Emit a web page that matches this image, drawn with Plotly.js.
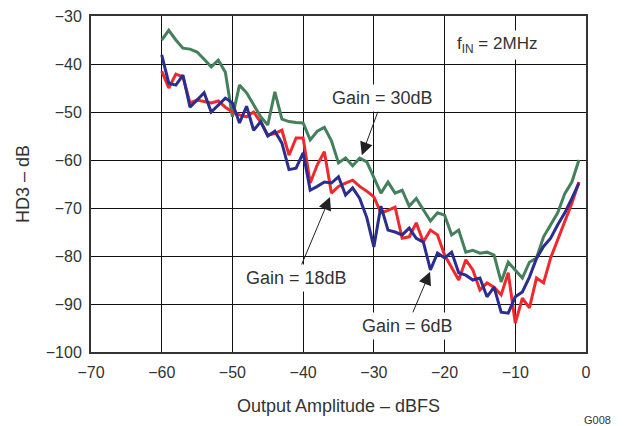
<!DOCTYPE html>
<html>
<head>
<meta charset="utf-8">
<script src="https://cdn.plot.ly/plotly-3.0.1.min.js"></script>
<style>html,body{margin:0;padding:0;background:#fff;}#chart{width:626px;height:426px;}</style>
</head>
<body>
<div id="chart"></div>
<script>
const xValues = [-60,-59,-58,-57,-56,-55,-54,-53,-52,-51,-50,-49,-48,-47,-46,-45,-44,-43,-42,-41,-40,-39,-38,-37,-36,-35,-34,-33,-32,-31,-30,-29,-28,-27,-26,-25,-24,-23,-22,-21,-20,-19,-18,-17,-16,-15,-14,-13,-12,-11,-10,-9,-8,-7,-6,-5,-4,-3,-2,-1];
const gain30 = [-35,-33,-35,-36.7,-36.9,-37.5,-39,-40.6,-39.2,-41.7,-51,-44.4,-46,-48.5,-51,-52.7,-45.8,-51.5,-52,-52.2,-52.3,-55.8,-54,-53.2,-56,-60.6,-59.6,-61.2,-59.6,-60.4,-63.5,-66.9,-64.6,-66.9,-66.3,-69.6,-68,-70.5,-72.7,-71,-71.5,-75.6,-74.6,-79.2,-78.8,-79.4,-79.2,-79.8,-85.4,-81.3,-82.9,-84.6,-81.3,-80.4,-76,-73.5,-71,-67,-64.6,-60];
const gain18 = [-41.5,-45,-42.1,-42.7,-48.1,-47.5,-47.8,-48.1,-47.7,-49,-50,-50.6,-51,-50,-52.1,-54.8,-54.5,-53.8,-59,-55.4,-55.4,-64.8,-61,-58.3,-66.9,-65.5,-64.8,-64.2,-65.5,-66.5,-67.7,-71,-70.5,-69.8,-76.3,-76,-73.1,-77.1,-74.6,-75.6,-79.8,-82.3,-85,-80.8,-82.9,-87.1,-85.6,-86.5,-88.1,-83.5,-94,-88.8,-90.8,-84.6,-85.6,-80.4,-76.5,-73,-69,-64.6];
const gain6 = [-38.1,-44,-44.4,-42.3,-49,-47.5,-46,-50,-48.5,-47.1,-48.1,-52.3,-48.8,-53.8,-52,-55,-54,-56.5,-62,-61.7,-58.5,-66.3,-65.5,-64.6,-64.8,-63.5,-67.3,-65.8,-68,-72,-78.1,-69.6,-74.6,-75,-75.6,-74.2,-76.3,-77.1,-82.9,-79.4,-80.4,-79.2,-83.5,-84,-85,-84.6,-88.5,-86.5,-91.7,-91.9,-88.5,-87.5,-84.4,-80.5,-78,-76.3,-73.5,-71,-68,-64.8];
const xTicks = [-70,-60,-50,-40,-30,-20,-10,0];
const yTicks = [-100,-90,-80,-70,-60,-50,-40,-30];
const seriesNames = ["Gain = 30dB","Gain = 18dB","Gain = 6dB"];

const font = "Liberation Sans, Arial, sans-serif";
const traces = [
  {x:xValues, y:gain30, name:seriesNames[0], mode:'lines', line:{color:'#44805c', width:3}},
  {x:xValues, y:gain18, name:seriesNames[1], mode:'lines', line:{color:'#ee2a2e', width:3}},
  {x:xValues, y:gain6,  name:seriesNames[2], mode:'lines', line:{color:'#2b2d8f', width:3}}
];
const ann = (text, x, y, ax, ay, arrow, size) => ({
  text, x, y, ax, ay, xref:'x', yref:'y', showarrow:arrow, axref:'pixel', ayref:'pixel',
  arrowhead:2, arrowsize:2.6, arrowwidth:1, arrowcolor:'#222', bgcolor:'#fff', borderpad:3,
  font:{family:font, size:size, color:'#333'}
});
const layout = {
  width:626, height:426,
  margin:{l:91, r:40, t:16, b:74},
  paper_bgcolor:'#fff', plot_bgcolor:'#fff',
  showlegend:false,
  font:{family:font, size:16, color:'#333'},
  xaxis:{range:[-70,0], tickvals:xTicks, showgrid:true, gridcolor:'#111', gridwidth:1,
    showline:true, mirror:true, linecolor:'#333', linewidth:2, zeroline:false,
    ticks:'outside', ticklen:5, tickcolor:'rgba(0,0,0,0)', tickfont:{family:font, size:16, color:'#333'},
    title:{text:'Output Amplitude – dBFS', font:{family:font, size:18, color:'#333'}, standoff:19}},
  yaxis:{range:[-100,-30], tickvals:yTicks, showgrid:true, gridcolor:'#111', gridwidth:1,
    showline:true, mirror:true, linecolor:'#333', linewidth:2, zeroline:false,
    ticks:'outside', ticklen:4, tickcolor:'rgba(0,0,0,0)', tickfont:{family:font, size:16, color:'#333'},
    title:{text:'HD3 – dB', font:{family:font, size:18, color:'#333'}, standoff:11}},
  annotations:[
    ann('f<sub>IN</sub> = 2MHz', -12.6, -36.0, 0, 0, false, 17),
    ann(seriesNames[0], -31.7, -59, 21, -57, true, 18),
    ann(seriesNames[1], -36.2, -67.7, -34, 81, true, 18),
    ann(seriesNames[2], -22.05, -83.3, -23, 54, true, 18),
    {text:'G008', xref:'paper', yref:'paper', x:1.024, y:-0.202, xanchor:'center', yanchor:'middle', showarrow:false,
     font:{family:font, size:11, color:'#333'}}
  ]
};
Plotly.newPlot('chart', traces, layout, {displayModeBar:false, staticPlot:true});
</script>
</body>
</html>
